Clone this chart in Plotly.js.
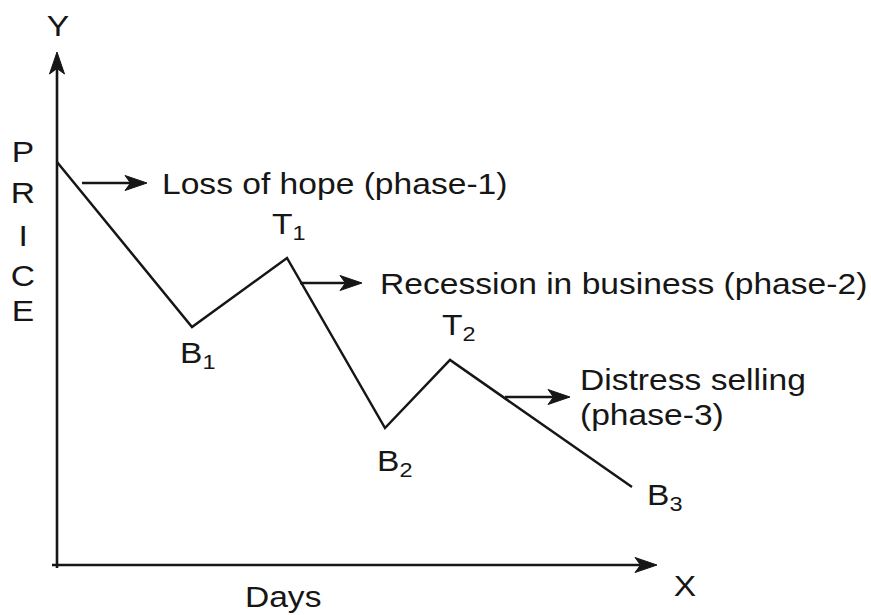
<!DOCTYPE html>
<html>
<head>
<meta charset="utf-8">
<script src="https://cdn.plot.ly/plotly-3.0.1.min.js"></script>
<style>
  html, body { margin: 0; padding: 0; background: #ffffff; }
  #chart { width: 871px; height: 615px; }
</style>
</head>
<body>
<div id="chart"></div>
<script>
// Price path during a bear market: peak, troughs (B) and rally tops (T).
// Units: 1 unit = 10 px on both axes, origin at the corner of the axes.
const days  = [0.0, 13.5, 23.0, 32.8, 39.3, 57.5];
const price = [40.3, 23.8, 30.7, 13.7, 20.5, 7.8];
const pointLabels = ['', 'B<sub>1</sub>', 'T<sub>1</sub>', 'B<sub>2</sub>', 'T<sub>2</sub>', 'B<sub>3</sub>'];

// Phase pointers: arrow start / end and the caption at the arrow tip
const phaseFromX = [2.5, 24.3, 44.8];
const phaseToX   = [9.0, 30.5, 51.3];
const phaseY     = [38.2, 28.2, 16.8];
const phaseText  = [
  ['Loss of hope (phase-1)'],
  ['Recession in business (phase-2)'],
  ['Distress selling', '(phase-3)']
];

// Axis arrows
const axisFrom = [[0, -0.3], [-0.5, 0]];
const axisTo   = [[0, 51.3], [60.0, 0]];
const axisNames = ['Y', 'X'];
const yAxisLetters = ['P', 'R', 'I', 'C', 'E'];
const xAxisTitle = 'Days';

// ---- styling / placement ----
const INK = '#161616';
const FONT = { family: 'Liberation Sans, Arial, Helvetica, sans-serif', size: 30, color: INK };
const TEXT_STRETCH = 1.12;
const HEAD_LEN = 2.2, HEAD_HALF = 0.75, HEAD_NOTCH = 0.55;

// label offsets (px) from their data points: [xshift, yshift]
const labelShift = [null, [-14, -27], [-17, 33], [-10, -34], [-10, 34], [13, -9]];
const phaseTextGap = [13, 16, 8];
const phaseLineGap = 3.45;          // units between caption lines

const shapes = [];
function arrow(x0, y0, x1, y1, w) {
  const dx = x1 - x0, dy = y1 - y0, len = Math.hypot(dx, dy);
  const ux = dx / len, uy = dy / len, px = -uy, py = ux;
  const bx = x1 - HEAD_LEN * ux, by = y1 - HEAD_LEN * uy;
  const nx = x1 - (HEAD_LEN - HEAD_NOTCH) * ux, ny = y1 - (HEAD_LEN - HEAD_NOTCH) * uy;
  shapes.push({ type: 'line', xref: 'x', yref: 'y', x0: x0, y0: y0, x1: nx, y1: ny,
                line: { color: INK, width: w } });
  const path = 'M' + x1 + ',' + y1 +
               ' L' + (bx + HEAD_HALF * px) + ',' + (by + HEAD_HALF * py) +
               ' L' + nx + ',' + ny +
               ' L' + (bx - HEAD_HALF * px) + ',' + (by - HEAD_HALF * py) + ' Z';
  shapes.push({ type: 'path', xref: 'x', yref: 'y', path: path,
                fillcolor: INK, line: { color: INK, width: 1 } });
}

axisFrom.forEach((p, i) => arrow(p[0], p[1], axisTo[i][0], axisTo[i][1], 2.6));
phaseFromX.forEach((x, i) => arrow(x, phaseY[i], phaseToX[i], phaseY[i], 2.4));

const annotations = [];
function note(text, x, y, opts) {
  annotations.push(Object.assign({
    text: text, x: x, y: y, xref: 'x', yref: 'y', showarrow: false,
    xanchor: 'center', yanchor: 'middle', align: 'center', font: FONT
  }, opts || {}));
}

// point labels
pointLabels.forEach((t, i) => {
  if (!t) return;
  note(t, days[i], price[i], { xanchor: 'left', align: 'left',
       xshift: labelShift[i][0], yshift: labelShift[i][1] });
});

// phase captions
phaseText.forEach((lines, i) => {
  lines.forEach((line, k) => {
    note(line, phaseToX[i], phaseY[i] + (lines.length - 1) * phaseLineGap / 2 - k * phaseLineGap,
         { xanchor: 'left', align: 'left', xshift: phaseTextGap[i] });
  });
});

// axis names
note(axisNames[0], axisTo[0][0] + 0.1, 54.0);
note(axisNames[1], 62.8, -2.0);
note(xAxisTitle, 22.6, -3.1);
const letterY = [41.4, 37.3, 33.0, 29.0, 25.5];
yAxisLetters.forEach((ch, i) => note(ch, -3.4, letterY[i]));

const trace = {
  x: days, y: price, type: 'scatter', mode: 'lines',
  line: { color: INK, width: 2.5 }, hoverinfo: 'skip', showlegend: false
};

const layout = {
  width: 871, height: 615,
  margin: { l: 0, r: 0, t: 0, b: 0 },
  paper_bgcolor: '#ffffff', plot_bgcolor: '#ffffff',
  xaxis: { range: [-5.7, 81.4], visible: false, fixedrange: true },
  yaxis: { range: [-5.0, 56.5], visible: false, fixedrange: true },
  shapes: shapes,
  annotations: annotations,
  showlegend: false
};

Plotly.newPlot('chart', [trace], layout, { staticPlot: true, displayModeBar: false })
  .then(gd => {
    // widen the lettering slightly, keeping each caption's anchor fixed
    gd.querySelectorAll('.annotation-text').forEach(t => {
      const cx = parseFloat(t.getAttribute('x')) || 0;
      t.setAttribute('transform',
        'translate(' + cx + ',0) scale(' + TEXT_STRETCH + ',1) translate(' + (-cx) + ',0)');
    });
  });
</script>
</body>
</html>
